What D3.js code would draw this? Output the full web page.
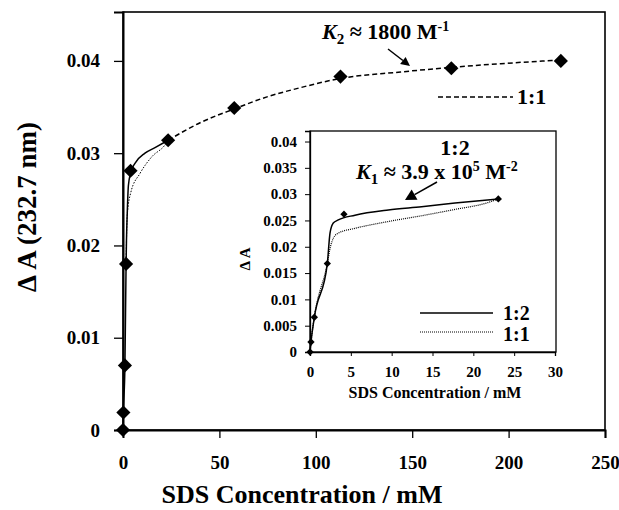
<!DOCTYPE html>
<html><head><meta charset="utf-8">
<script src="https://cdnjs.cloudflare.com/ajax/libs/d3/7.8.5/d3.min.js"></script>
<style>
body{margin:0;background:#fff;}
svg{display:block;}
text{font-family:"Liberation Serif","Times New Roman",serif;font-weight:bold;fill:#000;}
</style></head>
<body><svg id="c" width="619" height="510"></svg>
<script>
// ---------- DATA ----------
// main panel: measured points
const mainConc = [0, 0.2, 1.0, 1.6, 3.9, 23.4, 57.7, 112.8, 170.3, 227.1];
const mainDA   = [0, 0.0019, 0.0070, 0.0180, 0.0281, 0.0314, 0.0349, 0.0383, 0.0392, 0.0400];
// main panel: 1:2 fit (solid, low-concentration part)
const main12Conc = [0, 0.2, 1.0, 1.6, 1.8, 2.2, 2.8, 4.0, 6.2, 11.4, 16.6, 23.4];
const main12DA   = [0, 0.0019, 0.0070, 0.0180, 0.0205, 0.0235, 0.0265, 0.0279, 0.0289, 0.0300, 0.0306, 0.0314];
// main panel: 1:1 fit (dotted, low-concentration part)
const main11Conc = [1.6, 1.9, 2.2, 4.0, 8.8, 14.9, 21.8, 23.4];
const main11DA   = [0.0180, 0.0215, 0.0233, 0.0257, 0.0278, 0.0296, 0.0309, 0.0314];
// main panel: 1:1 fit (dashed, K2 ~ 1800 M-1)
const mainK2Conc = [23.4, 40, 57.7, 74.7, 92, 112.8, 144, 170.3, 196, 227.1];
const mainK2DA   = [0.0314, 0.0333, 0.0348, 0.0361, 0.0371, 0.0381, 0.0388, 0.0393, 0.0397, 0.0401];
const mainXTicks = [0, 50, 100, 150, 200, 250];
const mainYTicks = [0, 0.01, 0.02, 0.03, 0.04];
const mainYTickLabels = ["0", "0.01", "0.02", "0.03", "0.04"];

// inset: measured points
const insetConc = [0, 0.12, 0.53, 2.12, 4.16, 23.06];
const insetDA   = [0, 0.0019, 0.0066, 0.0168, 0.0262, 0.0291];
// inset: 1:2 fit (solid)
const inset12Conc = [0, 0.12, 0.53, 2.12, 2.45, 2.85, 3.47, 5.51, 9.59, 13.67, 17.76, 23.06];
const inset12DA   = [0, 0.0019, 0.0066, 0.0168, 0.0226, 0.0245, 0.0251, 0.0260, 0.0270, 0.0276, 0.0283, 0.0291];
// inset: 1:1 fit (dotted)
const inset11Conc = [0, 0.12, 0.53, 2.12, 2.5, 2.85, 3.47, 5.51, 9.59, 13.67, 17.76, 21.8, 23.06];
const inset11DA   = [0, 0.0019, 0.0066, 0.0168, 0.0200, 0.0216, 0.0226, 0.0235, 0.0248, 0.0259, 0.0271, 0.0284, 0.0291];
const insetXTicks = [0, 5, 10, 15, 20, 25, 30];
const insetYTicks = [0, 0.005, 0.01, 0.015, 0.02, 0.025, 0.03, 0.035, 0.04];
const insetYTickLabels = ["0", "0.005", "0.01", "0.015", "0.02", "0.025", "0.03", "0.035", "0.04"];

// ---------- DRAW ----------
const svg = d3.select("#c");
const zip = (a, b) => a.map((v, i) => [v, b[i]]);

// main scales
const M = {l: 123, r: 605, t: 12, b: 430};
const x = d3.scaleLinear().domain([0, 250]).range([M.l, M.r]);
const y = d3.scaleLinear().domain([0, 0.0453]).range([M.b, M.t]);

// frame
svg.append("rect").attr("x", M.l).attr("y", M.t).attr("width", M.r - M.l).attr("height", M.b - M.t)
  .attr("fill", "none").attr("stroke", "#000").attr("stroke-width", 1.6);

const gx = svg.append("g").attr("transform", `translate(0,${M.b})`)
  .call(d3.axisBottom(x).tickValues(mainXTicks).tickSize(8).tickPadding(18).tickFormat(d3.format("d")));
const gy = svg.append("g").attr("transform", `translate(${M.l},0)`)
  .call(d3.axisLeft(y).tickValues(mainYTicks).tickSize(9).tickPadding(14)
    .tickFormat((d, i) => mainYTickLabels[i]));
[gx, gy].forEach(g => {
  g.select(".domain").attr("stroke-width", 2);
  g.selectAll(".tick line").attr("stroke-width", 1.3);
  g.selectAll("text").style("font-size", "19px").attr("font-family", null).attr("font-weight", null);
});
gx.select(".tick line").remove();

// axis titles
svg.append("text").attr("x", 302).attr("y", 503).attr("text-anchor", "middle")
  .style("font-size", "26px").text("SDS Concentration / mM");
svg.append("text").attr("transform", "translate(36,207) rotate(-90)").attr("text-anchor", "middle")
  .style("font-size", "27px").text("\u0394 A (232.7 nm)");

const line = (xs, ys) => d3.line().x(d => xs(d[0])).y(d => ys(d[1])).curve(d3.curveMonotoneX);

svg.append("path").attr("d", line(x, y)(zip(main12Conc, main12DA)))
  .attr("fill", "none").attr("stroke", "#000").attr("stroke-width", 1.5);
svg.append("path").attr("d", line(x, y)(zip(main11Conc, main11DA)))
  .attr("fill", "none").attr("stroke", "#000").attr("stroke-width", 1).attr("stroke-dasharray", "1.5,1.5");
svg.append("path").attr("d", line(x, y)(zip(mainK2Conc, mainK2DA)))
  .attr("fill", "none").attr("stroke", "#000").attr("stroke-width", 1.5).attr("stroke-dasharray", "5,3");

const diamond = (s) => d3.symbol().type(d3.symbolDiamond2).size(s);
svg.append("g").selectAll("path").data(zip(mainConc, mainDA)).join("path")
  .attr("d", diamond(128)).attr("transform", d => `translate(${x(d[0])},${y(d[1])})`).attr("fill", "#000");

// main annotations
function arrow(x1, y1, x2, y2, head, w) {
  const a = Math.atan2(y2 - y1, x2 - x1);
  const bx = x2 - head * Math.cos(a), by = y2 - head * Math.sin(a);
  svg.append("line").attr("x1", x1).attr("y1", y1).attr("x2", bx).attr("y2", by)
    .attr("stroke", "#000").attr("stroke-width", 1.5);
  const px = -Math.sin(a) * w, py = Math.cos(a) * w;
  svg.append("polygon").attr("points",
    `${x2},${y2} ${bx + px},${by + py} ${bx - px},${by - py}`).attr("fill", "#000");
}
const k2 = svg.append("text").attr("x", 322).attr("y", 39).style("font-size", "22px");
k2.append("tspan").style("font-style", "italic").text("K");
k2.append("tspan").attr("dy", 5).style("font-size", "15px").text("2");
k2.append("tspan").attr("dy", -5).text(" \u2248 1800 M");
k2.append("tspan").attr("dy", -8).style("font-size", "14px").text("-1");
arrow(388, 49, 410, 66, 9, 4.5);

svg.append("line").attr("x1", 438).attr("x2", 513).attr("y1", 97).attr("y2", 97)
  .attr("stroke", "#000").attr("stroke-width", 1.5).attr("stroke-dasharray", "5,3");
svg.append("text").attr("x", 517).attr("y", 104).style("font-size", "22px").text("1:1");

// ---------- INSET ----------
const I = {l: 310, r: 556, t: 131, b: 352};
const xi = d3.scaleLinear().domain([0, 30]).range([I.l, I.l + 245]);
const yi = d3.scaleLinear().domain([0, 0.042]).range([I.b, I.t]);

svg.append("rect").attr("x", I.l).attr("y", I.t).attr("width", I.r - I.l).attr("height", I.b - I.t)
  .attr("fill", "#fff").attr("stroke", "#000").attr("stroke-width", 1.3);

const gxi = svg.append("g").attr("transform", `translate(0,${I.b})`)
  .call(d3.axisBottom(xi).tickValues(insetXTicks).tickSize(4).tickPadding(10).tickFormat(d3.format("d")));
const gyi = svg.append("g").attr("transform", `translate(${I.l},0)`)
  .call(d3.axisLeft(yi).tickValues(insetYTicks).tickSize(5).tickPadding(8)
    .tickFormat((d, i) => insetYTickLabels[i]));
[gxi, gyi].forEach(g => {
  g.select(".domain").attr("stroke-width", 1.3);
  g.selectAll(".tick line").attr("stroke-width", 1);
  g.selectAll("text").style("font-size", "15px").attr("font-family", null).attr("font-weight", null);
});

svg.append("text").attr("x", 435).attr("y", 398).attr("text-anchor", "middle")
  .style("font-size", "16px").text("SDS Concentration / mM");
svg.append("text").attr("transform", "translate(250,259) rotate(-90)").attr("text-anchor", "middle")
  .style("font-size", "15px").text("\u0394 A");

svg.append("path").attr("d", line(xi, yi)(zip(inset11Conc, inset11DA)))
  .attr("fill", "none").attr("stroke", "#000").attr("stroke-width", 1.2).attr("stroke-dasharray", "1,1");
svg.append("path").attr("d", line(xi, yi)(zip(inset12Conc, inset12DA)))
  .attr("fill", "none").attr("stroke", "#000").attr("stroke-width", 1.5);
svg.append("g").selectAll("path").data(zip(insetConc, insetDA)).join("path")
  .attr("d", diamond(34)).attr("transform", d => `translate(${xi(d[0])},${yi(d[1])})`).attr("fill", "#000");

svg.append("text").attr("x", 455).attr("y", 155).attr("text-anchor", "middle")
  .style("font-size", "22px").text("1:2");
const k1 = svg.append("text").attr("x", 356).attr("y", 179).style("font-size", "22px");
k1.append("tspan").style("font-style", "italic").text("K");
k1.append("tspan").attr("dy", 5).style("font-size", "15px").text("1");
k1.append("tspan").attr("dy", -5).text(" \u2248 3.9 x 10");
k1.append("tspan").attr("dy", -8).style("font-size", "14px").text("5");
k1.append("tspan").attr("dy", 8).text(" M");
k1.append("tspan").attr("dy", -8).style("font-size", "14px").text("-2");
arrow(437, 182, 405, 200, 11, 6);

svg.append("line").attr("x1", 420).attr("x2", 493).attr("y1", 313).attr("y2", 313)
  .attr("stroke", "#000").attr("stroke-width", 1.5);
svg.append("text").attr("x", 503).attr("y", 320).style("font-size", "20px").text("1:2");
svg.append("line").attr("x1", 420).attr("x2", 493).attr("y1", 332).attr("y2", 332)
  .attr("stroke", "#000").attr("stroke-width", 1.2).attr("stroke-dasharray", "1,1");
svg.append("text").attr("x", 503).attr("y", 341).style("font-size", "20px").text("1:1");
</script></body></html>
